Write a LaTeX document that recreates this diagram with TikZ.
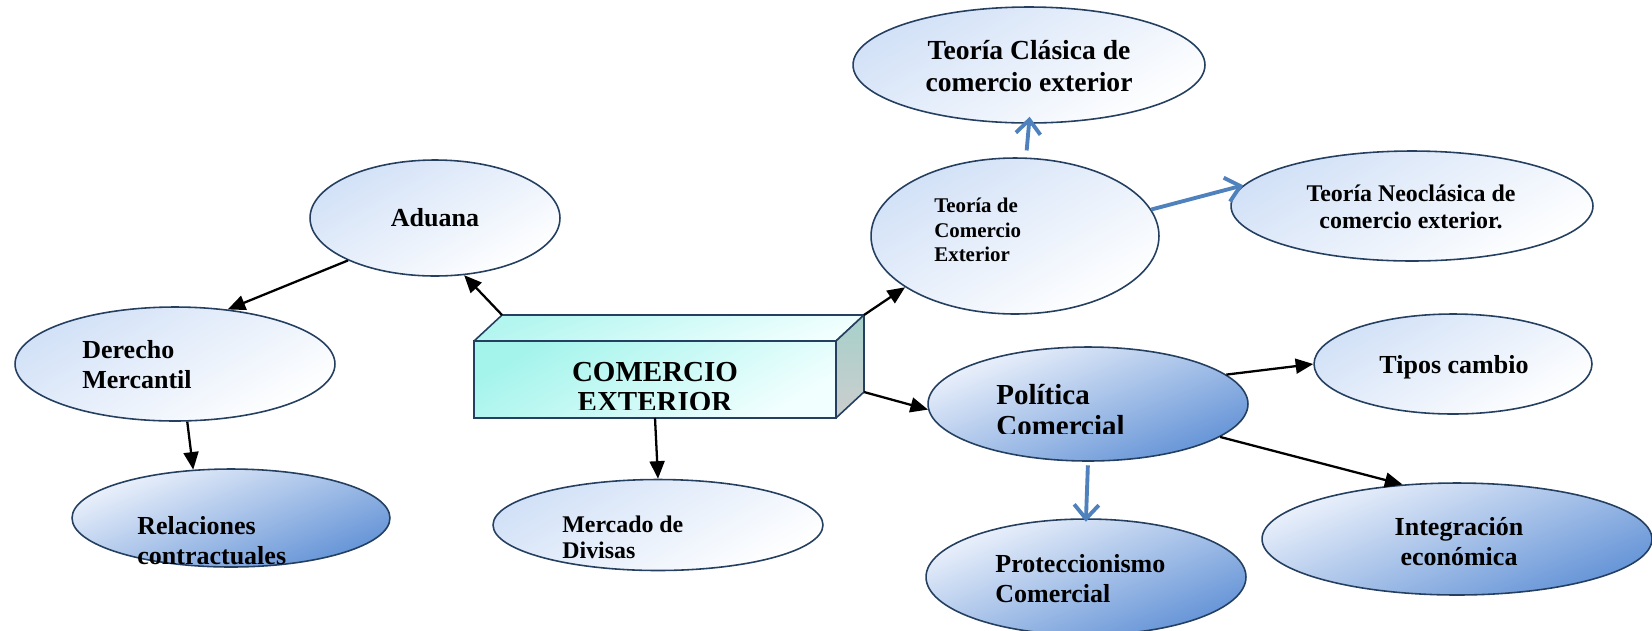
\documentclass[tikz,border=0pt]{standalone}
\usepackage{fontspec}
\setmainfont{Liberation Serif}
\usetikzlibrary{arrows.meta,calc,shapes.geometric}

\definecolor{rim}{RGB}{36,63,96}
\definecolor{paleblue}{RGB}{210,225,247}
\definecolor{icewhite}{RGB}{238,243,252}
\definecolor{deepblue}{RGB}{98,146,214}
\definecolor{arrowblue}{RGB}{79,129,189}
\definecolor{cyanfront}{RGB}{164,244,236}
\definecolor{cyanpale}{RGB}{242,255,255}
\definecolor{sidegrey}{RGB}{166,208,202}
\definecolor{sidegrey2}{RGB}{204,206,206}

\begin{document}
\begin{tikzpicture}[x=0.02cm, y=-0.02cm,
  bubble/.style={ellipse, draw=rim, line width=0.9pt, inner sep=0pt},
  pale/.style={bubble, top color=paleblue, bottom color=white, shading angle=30},
  deep/.style={bubble, top color=icewhite, bottom color=deepblue, shading angle=22},
  txt/.style={font=\bfseries\fontsize{14.8}{17}\selectfont, align=left, inner sep=0pt},
  bigtxt/.style={font=\bfseries\fontsize{16.5}{17.6}\selectfont, inner sep=0pt},
  smalltxt/.style={font=\bfseries\fontsize{11.9}{13.9}\selectfont, align=left, inner sep=0pt},
  dark arrow/.style={-{Triangle[length=10pt,width=8.5pt]}, line width=1.3pt},
  blue arrow/.style={-{Straight Barb[length=8pt,width=14pt]}, line width=2.2pt, draw=arrowblue}]
\useasboundingbox (0,0) rectangle (1652,630);

% burbujas
\node [pale, minimum width=5cm, minimum height=2.32cm] (aduana) at (435,218) {};
\node [pale, minimum width=6.4cm, minimum height=2.28cm] (derecho) at (175,364) {};
\node [deep, minimum width=6.36cm, minimum height=1.96cm] (relaciones) at (231,518) {};
\node [pale, minimum width=6.6cm, minimum height=1.82cm] (mercado) at (658,525) {};
\node [pale, minimum width=5.76cm, minimum height=3.12cm] (teoria) at (1015,236) {};
\node [pale, minimum width=7.04cm, minimum height=2.32cm] (clasica) at (1029,65) {};
\node [pale, minimum width=7.24cm, minimum height=2.2cm] (neoclasica) at (1412,206) {};
\node [deep, minimum width=6.4cm, minimum height=2.28cm] (politica) at (1088,404) {};
\node [deep, minimum width=6.4cm, minimum height=2.32cm] (proteccion) at (1086,577) {};
\node [pale, minimum width=5.56cm, minimum height=2cm] (tipos) at (1453,364) {};
\node [deep, minimum width=7.8cm, minimum height=2.24cm] (integracion) at (1457,539) {};

% caja central
\node [draw=rim, line width=0.9pt, outer sep=0pt, top color=cyanfront, bottom color=cyanpale,
  shading angle=30, minimum width=7.24cm, minimum height=1.54cm] (comercio) at (655,379.5) {};
\coordinate (comercio-nw) at ($(comercio.north west)+(28,-26)$);
\coordinate (comercio-ne) at ($(comercio.north east)+(28,-26)$);
\coordinate (comercio-se) at ($(comercio.south east)+(28,-26)$);
\draw [rim, line width=0.9pt, line join=round, top color=cyanfront!85!white, bottom color=cyanpale, shading angle=20]
  (comercio.north west) -- (comercio-nw) -- (comercio-ne) -- (comercio.north east) -- cycle;
\draw [rim, line width=0.9pt, line join=round, top color=sidegrey, bottom color=sidegrey2]
  (comercio.north east) -- (comercio-ne) -- (comercio-se) -- (comercio.south east) -- cycle;

% textos
\node [txt] (aduana-t) at (435,218) {Aduana};
\node [txt, anchor=west] (derecho-t) at (82,365) {Derecho\\Mercantil};
\node [txt, anchor=west] (relaciones-t) at (137,541) {Relaciones\\contractuales};
\node [txt, font=\bfseries\fontsize{13.6}{14.7}\selectfont, anchor=west] (mercado-t) at (562,537) {Mercado de\\Divisas};
\node [smalltxt, anchor=west] (teoria-t) at (934,230) {Teoría de\\Comercio\\Exterior};
\node [txt, font=\bfseries\fontsize{15.7}{18}\selectfont, align=center] (clasica-t) at (1029,66) {Teoría Clásica de\\comercio exterior};
\node [txt, font=\bfseries\fontsize{13.6}{15.3}\selectfont, align=center] (neoclasica-t) at (1411,207) {Teoría Neoclásica de\\comercio exterior.};
\node [txt] (tipos-t) at (1454,367) {Tipos cambio};
\node [txt, align=center] (integracion-t) at (1459,542) {Integración\\económica};
\node [txt, anchor=west] (proteccion-t) at (995,579) {Proteccionismo\\Comercial};
\begin{scope}
\clip (comercio.north west) rectangle ($(comercio.south east)+(0,-9)$);
\node [bigtxt, align=center] (comercio-t) at (655,387) {COMERCIO\\EXTERIOR};
\end{scope}
\begin{scope}
\clip (politica.north west) rectangle ($(politica.east)+(0,29)$);
\node [bigtxt, align=left, anchor=west] (politica-t) at (996,410) {Política\\Comercial};
\end{scope}

% flechas
\draw [dark arrow] (comercio-nw) -- (aduana.-63);
\draw [dark arrow] (aduana.206) -- (derecho.46);
\draw [dark arrow] (derecho.-78) -- (relaciones.128);
\draw [dark arrow] (comercio.south) -- (mercado.north);
\draw [dark arrow] (comercio-ne) -- (teoria.205);
\draw [dark arrow] (comercio-se) -- (politica.182);
\draw [dark arrow] (politica.12) -- (tipos.west);
\draw [dark arrow] (politica.-14) -- (integracion.135);
\draw [blue arrow, shorten <=4pt, shorten >=-4pt] (teoria.82) -- (clasica.south);
\draw [blue arrow] (teoria.11) -- (neoclasica.173);
\draw [blue arrow, shorten <=2pt, shorten >=-2pt] (politica.south) -- (proteccion.north);
\end{tikzpicture}
\end{document}
